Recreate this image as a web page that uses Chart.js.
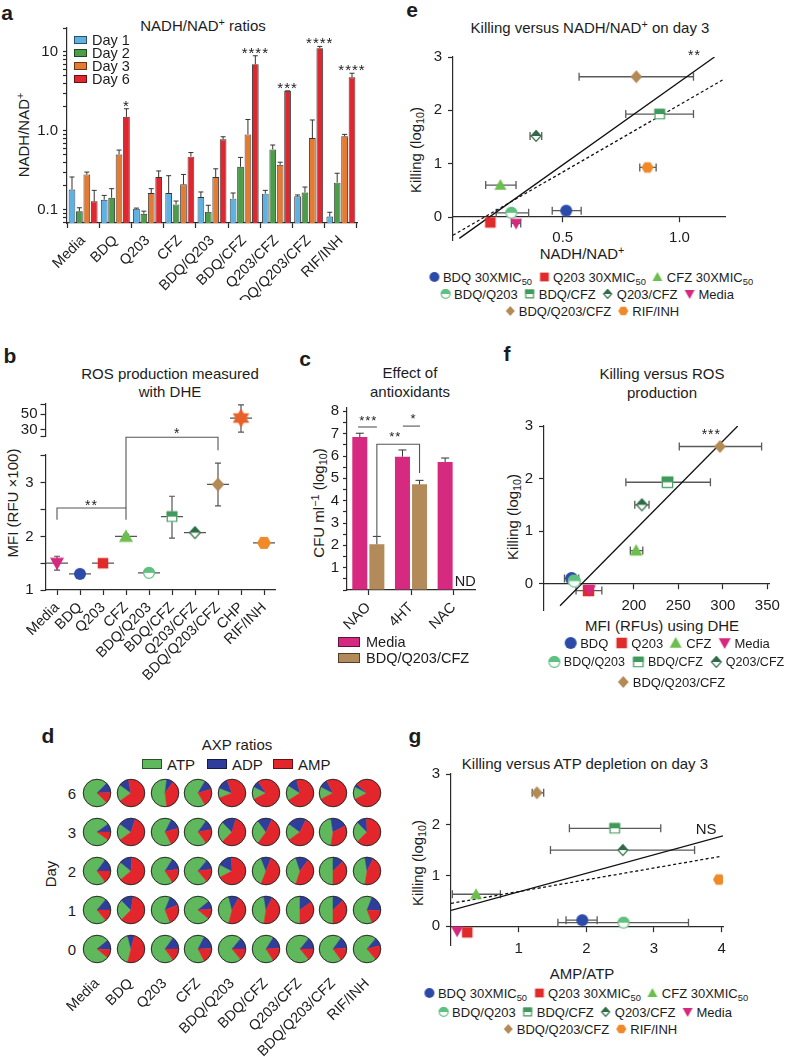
<!DOCTYPE html>
<html><head><meta charset="utf-8">
<script src="https://cdn.jsdelivr.net/npm/chart.js@4.4.1/dist/chart.umd.min.js"></script>
<style>
html,body{margin:0;padding:0;background:#fff;}
#root{position:relative;width:788px;height:1057px;overflow:hidden;background:#fff;font-family:"Liberation Sans",Arial,Helvetica,sans-serif;color:#1c1c1c;}
#root canvas{position:absolute;}
.t{position:absolute;white-space:nowrap;line-height:1;}
.lg{position:absolute;display:flex;align-items:center;white-space:nowrap;line-height:1;transform:translate(-50%,-50%);}
.lg .it{display:flex;align-items:center;margin:0 2.5px;}
#root .lg canvas{position:static;margin-right:2px;}
sub{font-size:72%;vertical-align:-0.3em;line-height:0;}
sup{font-size:72%;vertical-align:0.45em;line-height:0;}
</style></head>
<body><div id="root"></div>
<script>
// ================= DATA =================
// Panel a: NADH/NAD+ ratios
const aCategories = ['Media','BDQ','Q203','CFZ','BDQ/Q203','BDQ/CFZ','Q203/CFZ','BDQ/Q203/CFZ','RIF/INH'];
const aSeries = ['Day 1','Day 2','Day 3','Day 6'];
const aDay1 = [0.18,0.134,0.103,0.163,0.145,0.138,0.16,0.148,0.082];
const aDay2 = [0.096,0.142,0.089,0.117,0.094,0.35,0.58,0.165,0.22];
const aDay3 = [0.28,0.5,0.163,0.21,0.26,0.9,0.37,0.81,0.855];
const aDay6 = [0.128,1.5,0.26,0.47,0.78,6.97,3.2,11.1,4.76];
const aDay1Err = [0.26,0.152,0.105,0.27,0.168,0.163,0.176,0.154,0.093];
const aDay2Err = [0.106,0.185,0.096,0.129,0.114,0.46,0.66,0.194,0.29];
const aDay3Err = [0.30,0.57,0.185,0.28,0.33,1.39,0.40,1.37,0.90];
const aDay6Err = [0.176,1.9,0.31,0.53,0.84,8.9,3.2,11.7,5.35];
const aStars = ['','*','','','','****','***','****','****'];
const aYTicks = [0.07,0.08,0.09,0.1,0.2,0.3,0.4,0.5,0.6,0.7,0.8,0.9,1,2,3,4,5,6,7,8,9,10,20];
const aYTickLabels = {'0.1':'0.1','1':'1.0','10':'10'};

// Panel b: ROS (MFI, RFU x100)
const bCategories = ['Media','BDQ','Q203','CFZ','BDQ/Q203','BDQ/CFZ','Q203/CFZ','BDQ/Q203/CFZ','CHP','RIF/INH'];
const bMFI  = [1.5,1.3,1.5,2.0,1.32,2.37,2.07,2.97,45,1.88];
const bLow  = [1.37,1.28,1.48,1.97,1.29,1.97,2.03,2.57,27,1.86];
const bHigh = [1.63,1.32,1.52,2.04,1.35,2.75,2.11,3.37,62,1.9];
const bLowerTicks = [1,1.5,2,2.5,3,3.52];
const bUpperTicks = [22,30,50,63];
const bBreak = 10;

// Panel c: antioxidants
const cCategories = ['NAO','4HT','NAC'];
const cMedia = [6.85,5.97,5.73];
const cMediaErr = [7.02,6.27,5.91];
const cCombo = [2.05,4.73,null];
const cComboErr = [2.4,4.91,null];
const cYTicks = [0,0.5,1,1.5,2,2.5,3,3.5,4,4.5,5,5.5,6,6.5,7,7.5,8];

// Panel d: AXP ratios (rows: day 6,3,2,1,0)
const dCategories = ['Media','BDQ','Q203','CFZ','BDQ/Q203','BDQ/CFZ','Q203/CFZ','BDQ/Q203/CFZ','RIF/INH'];
const dDays = ['6','3','2','1','0'];
const dATP = [
  [0.75,0.20,0.54,0.67,0.12,0.15,0.18,0.15,0.15],
  [0.80,0.20,0.65,0.70,0.25,0.30,0.20,0.45,0.25],
  [0.70,0.22,0.68,0.72,0.15,0.38,0.40,0.50,0.45],
  [0.72,0.25,0.62,0.78,0.42,0.45,0.50,0.50,0.62],
  [0.78,0.42,0.70,0.65,0.72,0.68,0.72,0.70,0.72]];
const dADP = [
  [0.12,0.12,0.08,0.12,0.13,0.08,0.12,0.10,0.04],
  [0.10,0.20,0.13,0.12,0.17,0.17,0.22,0.20,0.12],
  [0.15,0.15,0.14,0.12,0.17,0.12,0.15,0.13,0.10],
  [0.14,0.15,0.13,0.10,0.12,0.10,0.15,0.13,0.20],
  [0.12,0.08,0.15,0.17,0.14,0.15,0.14,0.14,0.10]];
const dAMP = [
  [0.13,0.68,0.38,0.21,0.75,0.77,0.70,0.75,0.81],
  [0.10,0.60,0.22,0.18,0.58,0.53,0.58,0.35,0.63],
  [0.15,0.63,0.18,0.16,0.68,0.50,0.45,0.37,0.45],
  [0.14,0.60,0.25,0.12,0.46,0.45,0.35,0.37,0.18],
  [0.10,0.50,0.15,0.18,0.14,0.17,0.14,0.16,0.18]];

// Panel e: killing vs NADH/NAD+ (day 3)
const eKeys  = ['BDQ','Q203','CFZ','BDQ/Q203','BDQ/CFZ','Q203/CFZ','Media','BDQ/Q203/CFZ','RIF/INH'];
const eNames = ['BDQ 30XMIC<sub>50</sub>','Q203 30XMIC<sub>50</sub>','CFZ 30XMIC<sub>50</sub>','BDQ/Q203','BDQ/CFZ','Q203/CFZ','Media','BDQ/Q203/CFZ','RIF/INH'];
const eX   = [0.515,0.19,0.233,0.28,0.915,0.386,0.30,0.815,0.863];
const eY   = [0.12,-0.10,0.60,0.08,1.93,1.52,-0.12,2.63,0.93];
const eXLo = [0.455,null,0.17,0.215,0.77,0.36,0.28,0.57,0.83];
const eXHi = [0.579,null,0.30,0.354,1.06,0.41,0.32,1.06,0.90];
const eFitSolidX = [0.057,1.15], eFitSolidY = [-0.40,3.0];
const eFitDashX = [0.03,1.185], eFitDashY = [-0.34,2.57];

// Panel f: killing vs ROS
const fKeys = ['BDQ','Q203','CFZ','Media','BDQ/Q203','BDQ/CFZ','Q203/CFZ','BDQ/Q203/CFZ'];
const fX   = [130,149,202.5,150,133,237.7,209,296.7];
const fY   = [0.10,-0.13,0.63,-0.12,0.05,1.93,1.50,2.61];
const fXLo = [122,135,196,null,null,191,201,251];
const fXHi = [138,164,210,null,null,286,217,343.5];
const fFitX = [117,316.7], fFitY = [-0.42,3.0];

// Panel g: killing vs AMP/ATP (day 3)
const gX   = [1.94,0.24,0.37,2.55,2.42,2.54,0.09,1.27,3.96];
const gY   = [0.12,-0.12,0.63,0.07,1.93,1.50,-0.10,2.63,0.92];
const gXLo = [1.70,null,0.02,1.58,1.75,1.47,null,1.20,null];
const gXHi = [2.16,null,0.73,3.51,3.10,3.60,null,1.37,null];
const gFitSolidX = [0,4.02], gFitSolidY = [0.31,1.78];
const gFitDashX = [0,4.0], gFitDashY = [0.45,1.38];

// ================= STYLE =================
const FONT = "'Liberation Sans', Arial, Helvetica, sans-serif";
const TXT = '#1c1c1c';
const AX = '#2a2a2a';
const DAYCOL = ['#5eb1e3','#4b9d4a','#e37b33','#e0262e'];
const PIECOL = ['#5fb85b','#2f3d9b','#e2262b'];
const C_MEDIA = '#d52a80', C_TAN = '#b38b5a';
const MK = {
  'BDQ':['circle','#2c4ba8'], 'Q203':['square','#e02b2b'], 'CFZ':['triangle','#6cbf4c'],
  'Media':['triangleDown','#d6287f'], 'BDQ/Q203':['halfCircle','#5fc07f'], 'BDQ/CFZ':['halfSquare','#3f9a5c'],
  'Q203/CFZ':['halfDiamond','#2f6b45'], 'BDQ/Q203/CFZ':['diamond','#b38a55'], 'RIF/INH':['hexagon','#f08a28'],
  'CHP':['star6','#e8602a']
};

Chart.defaults.font.family = FONT;
Chart.defaults.font.size = 14;
Chart.defaults.color = TXT;
Chart.defaults.animation = false;
Chart.defaults.responsive = false;
Chart.defaults.maintainAspectRatio = false;
Chart.defaults.plugins.legend.display = false;
Chart.defaults.plugins.tooltip.enabled = false;
Chart.defaults.events = [];

const root = document.getElementById('root');
function txt(x, y, html, o = {}) {
  const d = document.createElement('div');
  d.className = 't'; d.innerHTML = html;
  d.style.left = x + 'px'; d.style.top = y + 'px';
  d.style.fontSize = (o.size || 14) + 'px';
  if (o.bold) d.style.fontWeight = 'bold';
  const tx = o.anchor === 'left' ? '0' : '-50%';
  d.style.transform = `translate(${tx},-50%)` + (o.rot ? ` rotate(${o.rot}deg)` : '');
  root.appendChild(d); return d;
}
function mkCanvas(l, t, w, h) {
  const c = document.createElement('canvas');
  c.width = w; c.height = h;
  c.style.left = l + 'px'; c.style.top = t + 'px';
  c.style.width = w + 'px'; c.style.height = h + 'px';
  root.appendChild(c); return c;
}
function clean(o) {
  if (o && typeof o === 'object' && !Array.isArray(o)) {
    Object.keys(o).forEach(k => { if (o[k] === undefined) delete o[k]; else clean(o[k]); });
  }
  return o;
}
function axisCfg(o) {
  return clean({
    type: o.type || 'linear', min: o.min, max: o.max, position: o.position, offset: o.offset, display: o.display,
    afterFit: o.size != null ? (s => { if (s.isHorizontal()) s.height = o.size; else s.width = o.size; }) : undefined,
    afterBuildTicks: o.ticks ? (s => { s.ticks = o.ticks.map(v => ({value: v})); }) : undefined,
    border: {display: o.border !== false, color: AX, width: 1.2},
    grid: {display: o.grid !== false, drawOnChartArea: false, drawTicks: o.drawTicks !== false, tickLength: o.tickLength ?? 5,
           color: AX, tickColor: AX, tickWidth: 1.2, offset: o.gridOffset},
    ticks: {padding: o.padding ?? 3, color: TXT, font: {size: o.font || 14}, autoSkip: false,
            minRotation: o.rot || 0, maxRotation: o.rot || 0, callback: o.label}
  });
}

// ---- markers ----
function shapePath(ctx, shape, cx, cy, r) {
  ctx.beginPath();
  if (shape === 'circle') ctx.arc(cx, cy, r, 0, Math.PI * 2);
  else if (shape === 'square') ctx.rect(cx - r * 0.88, cy - r * 0.88, r * 1.76, r * 1.76);
  else if (shape === 'triangle') { ctx.moveTo(cx, cy - r); ctx.lineTo(cx + r, cy + r * 0.78); ctx.lineTo(cx - r, cy + r * 0.78); ctx.closePath(); }
  else if (shape === 'triangleDown') { ctx.moveTo(cx, cy + r); ctx.lineTo(cx + r, cy - r * 0.78); ctx.lineTo(cx - r, cy - r * 0.78); ctx.closePath(); }
  else if (shape === 'diamond') { ctx.moveTo(cx, cy - r); ctx.lineTo(cx + r * 0.9, cy); ctx.lineTo(cx, cy + r); ctx.lineTo(cx - r * 0.9, cy); ctx.closePath(); }
  else if (shape === 'hexagon') { for (let k = 0; k < 6; k++) { const a = Math.PI / 3 * k; const px = cx + r * Math.cos(a), py = cy + r * Math.sin(a); k ? ctx.lineTo(px, py) : ctx.moveTo(px, py); } ctx.closePath(); }
  else if (shape === 'star6') { for (let k = 0; k < 12; k++) { const a = -Math.PI / 2 + Math.PI / 6 * k; const rr = k % 2 ? r * 0.58 : r; const px = cx + rr * Math.cos(a), py = cy + rr * Math.sin(a); k ? ctx.lineTo(px, py) : ctx.moveTo(px, py); } ctx.closePath(); }
}
function drawMarker(ctx, type, cx, cy, size, color) {
  const r = size / 2;
  const half = type.startsWith('half');
  const shape = half ? type.charAt(4).toLowerCase() + type.slice(5) : type;
  ctx.save();
  if (half) {
    ctx.fillStyle = '#fff'; shapePath(ctx, shape, cx, cy, r); ctx.fill();
    ctx.save(); ctx.beginPath(); ctx.rect(cx - r - 2, cy - r - 2, 2 * r + 4, r + 2); ctx.clip();
    ctx.fillStyle = color; shapePath(ctx, shape, cx, cy, r); ctx.fill(); ctx.restore();
    ctx.strokeStyle = color; ctx.lineWidth = 1.2; shapePath(ctx, shape, cx, cy, r - 0.6); ctx.stroke();
  } else { ctx.fillStyle = color; shapePath(ctx, shape, cx, cy, r); ctx.fill(); }
  ctx.restore();
}
function markerCanvas(type, size, color) {
  const c = document.createElement('canvas');
  const n = Math.ceil(size) + 4;
  c.width = n; c.height = n;
  drawMarker(c.getContext('2d'), type, n / 2, n / 2, size, color);
  return c;
}

// ---- plugins ----
function barErr(cap) {
  return {id: 'barErr', afterDatasetsDraw(chart) {
    const ctx = chart.ctx, Y = chart.scales.y;
    chart.data.datasets.forEach((ds, di) => {
      if (!ds.err) return;
      chart.getDatasetMeta(di).data.forEach((bar, i) => {
        const v = ds.err[i]; if (v == null || ds.data[i] == null) return;
        const yt = Y.getPixelForValue(v);
        ctx.save(); ctx.strokeStyle = '#333'; ctx.lineWidth = 1;
        ctx.beginPath(); ctx.moveTo(bar.x, bar.y); ctx.lineTo(bar.x, yt);
        ctx.moveTo(bar.x - cap, yt); ctx.lineTo(bar.x + cap, yt); ctx.stroke(); ctx.restore();
      });
    });
  }};
}
function notes(spec) {
  return {id: 'notes', afterDraw(chart) {
    const ctx = chart.ctx, X = chart.scales.x, Y = chart.scales.y;
    (spec.lines || []).forEach(l => {
      ctx.save(); ctx.strokeStyle = spec.lineColor || '#555'; ctx.lineWidth = 1.1; ctx.beginPath();
      l.forEach((p, k) => { const px = X.getPixelForValue(p[0]), py = Y.getPixelForValue(p[1]); k ? ctx.lineTo(px, py) : ctx.moveTo(px, py); });
      ctx.stroke(); ctx.restore();
    });
    (spec.texts || []).forEach(t => {
      ctx.save(); ctx.fillStyle = TXT; ctx.font = `${t.size || 14}px ${FONT}`;
      ctx.textAlign = 'center'; ctx.textBaseline = 'middle';
      if (t.ls) ctx.letterSpacing = t.ls + 'px';
      ctx.fillText(t.t, X.getPixelForValue(t.x), Y.getPixelForValue(t.y) + (t.dy || 0));
      ctx.restore();
    });
  }};
}
function hErr(ys, lo, hi) {
  return {id: 'hErr', beforeDatasetsDraw(chart) {
    const ctx = chart.ctx, X = chart.scales.x, Y = chart.scales.y;
    ctx.save(); ctx.strokeStyle = '#5a5a5a'; ctx.lineWidth = 1.3;
    lo.forEach((l, i) => {
      if (l == null) return;
      const y = Y.getPixelForValue(ys[i]), x1 = X.getPixelForValue(l), x2 = X.getPixelForValue(hi[i]);
      ctx.beginPath(); ctx.moveTo(x1, y); ctx.lineTo(x2, y);
      ctx.moveTo(x1, y - 4); ctx.lineTo(x1, y + 4); ctx.moveTo(x2, y - 4); ctx.lineTo(x2, y + 4); ctx.stroke();
    });
    ctx.restore();
  }};
}
function vErr(vals, lo, hi, keep) {
  return {id: 'vErr', beforeDatasetsDraw(chart) {
    const ctx = chart.ctx, X = chart.scales.x, Y = chart.scales.y;
    ctx.save(); ctx.strokeStyle = '#555'; ctx.lineWidth = 1.2;
    vals.forEach((v, i) => {
      if (!keep(v)) return;
      const x = X.getPixelForValue(i), y = Y.getPixelForValue(v), y1 = Y.getPixelForValue(lo[i]), y2 = Y.getPixelForValue(hi[i]);
      ctx.beginPath(); ctx.moveTo(x - 11, y); ctx.lineTo(x + 11, y);
      ctx.moveTo(x, y1); ctx.lineTo(x, y2);
      ctx.moveTo(x - 3, y1); ctx.lineTo(x + 3, y1); ctx.moveTo(x - 3, y2); ctx.lineTo(x + 3, y2); ctx.stroke();
    });
    ctx.restore();
  }};
}
const pieRim = {id: 'rim', afterDatasetsDraw(chart) {
  const arc = chart.getDatasetMeta(0).data[0]; if (!arc) return;
  const ctx = chart.ctx; ctx.save(); ctx.strokeStyle = '#2d2d2d'; ctx.lineWidth = 1;
  ctx.beginPath(); ctx.arc(arc.x, arc.y, arc.outerRadius, 0, Math.PI * 2); ctx.stroke(); ctx.restore();
}};

// ---- legends ----
function swatch(x, y, w, h, color, label, size, gap) {
  const s = document.createElement('div');
  s.style.cssText = `position:absolute;left:${x}px;top:${y - h / 2}px;width:${w}px;height:${h}px;background:${color};border:1px solid rgba(0,0,0,0.55);box-sizing:border-box;`;
  root.appendChild(s);
  txt(x + w + gap, y, label, {size, anchor: 'left'});
}
function legendRow(cx, cy, items, size, msize) {
  const d = document.createElement('div'); d.className = 'lg';
  d.style.left = cx + 'px'; d.style.top = cy + 'px'; d.style.fontSize = size + 'px';
  items.forEach(([key, html]) => {
    const it = document.createElement('span'); it.className = 'it';
    const m = markerCanvas(MK[key][0], msize, MK[key][1]);
    m.style.width = m.width + 'px'; m.style.height = m.height + 'px';
    it.appendChild(m);
    const s = document.createElement('span'); s.innerHTML = html; it.appendChild(s);
    d.appendChild(it);
  });
  root.appendChild(d);
}

// ================= PANEL LETTERS & TITLES =================
[['a',7,12],['b',10,355],['c',305,358],['d',48,735],['e',412,9],['f',507,353],['g',415,735]]
  .forEach(([l, x, y]) => txt(x, y, l, {size: 21, bold: true}));

const TS = 15;
txt(203, 25, 'NADH/NAD<sup>+</sup> ratios', {size: TS});
txt(23, 135, 'NADH/NAD<sup>+</sup>', {rot: -90, size: TS});
txt(170, 373, 'ROS production measured', {size: TS});
txt(170, 391, 'with DHE', {size: TS});
txt(12, 503, 'MFI (RFU ×100)', {rot: -90, size: TS});
txt(410, 372, 'Effect of', {size: TS});
txt(410, 391, 'antioxidants', {size: TS});
txt(318, 503, 'CFU ml<sup>−1</sup> (log<sub>10</sub>)', {rot: -90, size: TS});
txt(237, 744, 'AXP ratios', {size: TS});
txt(50, 874, 'Day', {rot: -90, size: TS});
txt(590, 27, 'Killing versus NADH/NAD<sup>+</sup> on day 3', {size: TS});
txt(415, 150, 'Killing (log<sub>10</sub>)', {rot: -90, size: TS});
txt(582, 253, 'NADH/NAD<sup>+</sup>', {size: TS});
txt(662, 373, 'Killing versus ROS', {size: TS});
txt(662, 392, 'production', {size: TS});
txt(512, 517, 'Killing (log<sub>10</sub>)', {rot: -90, size: TS});
txt(662, 625, 'MFI (RFUs) using DHE', {size: TS});
txt(585, 763, 'Killing versus ATP depletion on day 3', {size: TS});
txt(417, 863, 'Killing (log<sub>10</sub>)', {rot: -90, size: TS});
txt(582, 973, 'AMP/ATP', {size: TS});

// ================= PANEL a =================
const aStarPlugin = {id: 'aStars', afterDatasetsDraw(chart) {
  const ctx = chart.ctx, Y = chart.scales.y, meta = chart.getDatasetMeta(3);
  ctx.save(); ctx.fillStyle = TXT; ctx.font = `15px ${FONT}`; ctx.textAlign = 'center'; ctx.textBaseline = 'alphabetic';
  ctx.letterSpacing = '1px';
  aStars.forEach((s, i) => { if (!s) return; ctx.fillText(s, meta.data[i].x, Y.getPixelForValue(aDay6Err[i]) + 2); });
  ctx.restore();
}};
new Chart(mkCanvas(0, 0, 400, 300), {
  type: 'bar',
  data: {labels: aCategories, datasets: [aDay1, aDay2, aDay3, aDay6].map((d, k) => ({
    label: aSeries[k], data: d, err: [aDay1Err, aDay2Err, aDay3Err, aDay6Err][k], backgroundColor: DAYCOL[k]}))},
  options: {
    layout: {padding: {left: 0, top: 28, right: 43, bottom: 0}},
    datasets: {bar: {categoryPercentage: 0.92, barPercentage: 0.9, borderColor: '#333', borderWidth: 0.9}},
    scales: {
      x: axisCfg({type: 'category', size: 77, rot: 45, padding: 4, tickLength: 5, font: 14.5}),
      y: axisCfg({type: 'logarithmic', min: 0.068, max: 20, size: 67, ticks: aYTicks, tickLength: 4, padding: 5, font: 15,
                  label: v => aYTickLabels[String(v)] || ''})
    }
  },
  plugins: [barErr(2.5), aStarPlugin]
});
[74].forEach(x => {
  const ys = [39.5, 52.5, 65.5, 79];
  aSeries.forEach((s, k) => swatch(x, ys[k], 13, 8, DAYCOL[k], s, 14.5, 5));
});

// ================= PANEL b =================
const bSize = {'Media':14,'BDQ':12,'Q203':12,'CFZ':14,'BDQ/Q203':12,'BDQ/CFZ':12,'Q203/CFZ':13,'BDQ/Q203/CFZ':14,'CHP':19,'RIF/INH':14};
const bStyles = bCategories.map(k => markerCanvas(MK[k][0], bSize[k], MK[k][1]));
const bLowerVals = bMFI.map(v => v <= bBreak ? v : null);
const bUpperVals = bMFI.map(v => v > bBreak ? v : null);
new Chart(mkCanvas(0, 420, 290, 280), {
  type: 'line',
  data: {labels: bCategories, datasets: [{data: bLowerVals, pointStyle: bStyles, pointRadius: 7, showLine: false}]},
  options: {
    layout: {padding: {left: 0, top: 35, right: 14.5, bottom: 0}},
    scales: {
      x: axisCfg({type: 'category', offset: true, size: 110, rot: 45, padding: 4, tickLength: 5, font: 14.5}),
      y: axisCfg({min: 1, max: 3.52, size: 45.5, ticks: bLowerTicks, padding: 7, tickLength: 5, font: 15,
                  label: v => Number.isInteger(v) ? String(v) : ''})
    }
  },
  plugins: [vErr(bMFI, bLow, bHigh, v => v <= bBreak), notes({
    lines: [[[0, 2.31], [0, 2.53], [3, 2.53], [3, 2.31]], [[3, 2.53], [3, 3.85], [7, 3.85], [7, 3.61]]],
    texts: [{x: 1.5, y: 2.62, t: '**', size: 14, dy: 3, ls: 1}, {x: 5.2, y: 3.97, t: '*', size: 14, dy: 3}]
  })]
});
new Chart(mkCanvas(0, 392, 290, 56), {
  type: 'line',
  data: {labels: bCategories, datasets: [{data: bUpperVals, pointStyle: bStyles, pointRadius: 7, showLine: false}]},
  options: {
    layout: {padding: {left: 0, top: 8.7, right: 14.5, bottom: 6.3}},
    scales: {
      x: {type: 'category', offset: true, display: false},
      y: axisCfg({min: 22, max: 63, size: 45.5, ticks: bUpperTicks, padding: 3, tickLength: 5, font: 15,
                  label: v => (v === 30 || v === 50) ? String(v) : ''})
    }
  },
  plugins: [vErr(bMFI, bLow, bHigh, v => v > bBreak)]
});

// ================= PANEL c =================
new Chart(mkCanvas(290, 395, 190, 275), {
  type: 'bar',
  data: {labels: cCategories, datasets: [
    {label: 'Media', data: cMedia, err: cMediaErr, backgroundColor: C_MEDIA},
    {label: 'BDQ/Q203/CFZ', data: cCombo, err: cComboErr, backgroundColor: C_TAN}]},
  options: {
    layout: {padding: {left: 0, top: 5, right: 5, bottom: 0}},
    datasets: {bar: {categoryPercentage: 0.8, barPercentage: 0.88, borderWidth: 0}},
    scales: {
      x: axisCfg({type: 'category', size: 80, rot: 45, padding: 4, tickLength: 5, gridOffset: false, font: 14.5}),
      y: axisCfg({min: 0, max: 8.15, size: 57, ticks: cYTicks, padding: 4, tickLength: 4, font: 15,
                  label: v => (Number.isInteger(v) && v > 0) ? String(v) : ''})
    }
  },
  plugins: [barErr(4), notes({
    lines: [[[-0.24, 7.3], [0.2, 7.3]], [[0.2, 2.37], [0.2, 6.53], [1.2, 6.53], [1.2, 5.24]], [[0.81, 7.34], [1.21, 7.34]]],
    texts: [{x: 0, y: 7.7, t: '***', size: 13, dy: 3, ls: 1}, {x: 0.63, y: 6.96, t: '**', size: 13, dy: 3, ls: 1},
            {x: 1.05, y: 7.77, t: '*', size: 13, dy: 3}, {x: 2.27, y: 0.36, t: 'ND', size: 14.5}]
  })]
});
swatch(338, 642, 22, 10, C_MEDIA, 'Media', 14.5, 6);
swatch(338, 658, 22, 10, C_TAN, 'BDQ/Q203/CFZ', 14.5, 6);

// ================= PANEL d =================
swatch(142, 764, 20, 10, PIECOL[0], 'ATP', 15, 5);
swatch(207, 764, 20, 10, PIECOL[1], 'ADP', 15, 5);
swatch(273, 764, 20, 10, PIECOL[2], 'AMP', 15, 5);
const D_X0 = 97, D_DX = 33.75, D_Y0 = 793, D_DY = 39;
dDays.forEach((day, r) => {
  txt(72, D_Y0 + r * D_DY, day, {size: 15});
  dCategories.forEach((cat, c) => {
    const vals = [dATP[r][c], dADP[r][c], dAMP[r][c]];
    const total = vals[0] + vals[1] + vals[2];
    const cx = D_X0 + c * D_DX, cy = D_Y0 + r * D_DY;
    new Chart(mkCanvas(cx - 16, cy - 16, 32, 32), {
      type: 'pie',
      data: {labels: ['ATP', 'ADP', 'AMP'], datasets: [{data: vals, backgroundColor: PIECOL, borderColor: PIECOL, borderWidth: 0.5}]},
      options: {rotation: 270 - 180 * vals[0] / total, layout: {padding: 2}},
      plugins: [pieRim]
    });
  });
});
new Chart(mkCanvas(0, 940, 400, 117), {
  type: 'bar',
  data: {labels: dCategories, datasets: [{data: []}]},
  options: {
    layout: {padding: {left: D_X0 - D_DX / 2, right: 400 - (D_X0 + 8.5 * D_DX), top: 0, bottom: 0}},
    scales: {
      x: axisCfg({type: 'category', size: 91, rot: 45, padding: 9, border: false, grid: false, drawTicks: false, font: 14.5}),
      y: {display: false}
    }
  }
});

// ================= PANEL e =================
function pts(xs, ys) { return xs.map((x, i) => ({x, y: ys[i]})); }
new Chart(mkCanvas(400, 40, 388, 215), {
  type: 'scatter',
  data: {datasets: [
    {data: pts(eX, eY), pointStyle: eKeys.map(k => markerCanvas(MK[k][0], k === 'BDQ/Q203/CFZ' ? 13 : 12, MK[k][1])), pointRadius: 6},
    {data: pts(eFitSolidX, eFitSolidY), showLine: true, borderColor: '#111', borderWidth: 1.3, pointRadius: 0},
    {data: pts(eFitDashX, eFitDashY), showLine: true, borderColor: '#111', borderWidth: 1.3, borderDash: [3, 2.5], pointRadius: 0}
  ]},
  options: {
    layout: {padding: {left: 0, top: 17, right: 63, bottom: 15}},
    scales: {
      x: axisCfg({min: 0.03, max: 1.195, position: {y: 0}, ticks: [0.5, 1.0], label: v => v.toFixed(1), padding: 7, font: 15}),
      y: axisCfg({min: -0.43, max: 3, size: 53, ticks: [0, 1, 2, 3], label: v => String(v), padding: 6, font: 15})
    }
  },
  plugins: [hErr(eY, eXLo, eXHi), notes({texts: [{x: 1.064, y: 3.08, t: '**', size: 14, dy: 3, ls: 1}]})]
});
legendRow(590, 277, [[eKeys[0], eNames[0]], [eKeys[1], eNames[1]], [eKeys[2], eNames[2]]], 13, 10);
legendRow(586, 294, [[eKeys[3], eNames[3]], [eKeys[4], eNames[4]], [eKeys[5], eNames[5]], [eKeys[6], eNames[6]]], 13, 10);
legendRow(591, 311, [[eKeys[7], eNames[7]], [eKeys[8], eNames[8]]], 13, 10);

// ================= PANEL f =================
new Chart(mkCanvas(490, 408, 298, 217), {
  type: 'scatter',
  data: {datasets: [
    {data: pts(fX, fY), pointStyle: fKeys.map(k => markerCanvas(MK[k][0], 13, MK[k][1])), pointRadius: 6},
    {data: pts(fFitX, fFitY), showLine: true, borderColor: '#111', borderWidth: 1.3, pointRadius: 0}
  ]},
  options: {
    layout: {padding: {left: 0, top: 18, right: 11, bottom: 9}},
    scales: {
      x: axisCfg({min: 99, max: 352.3, position: {y: 0}, ticks: [200, 250, 300, 350], label: v => String(v), padding: 8, font: 15}),
      y: axisCfg({min: -0.5, max: 3, size: 54, ticks: [0, 1, 2, 3], label: v => String(v), padding: 6, font: 15})
    }
  },
  plugins: [hErr(fY, fXLo, fXHi), notes({texts: [{x: 287, y: 2.89, t: '***', size: 14, dy: 3, ls: 1}]})]
});
legendRow(666, 643, fKeys.slice(0, 4).map(k => [k, k]), 13, 12);
legendRow(665, 662, fKeys.slice(4, 7).map(k => [k, k]), 12.5, 12);
legendRow(670, 682, fKeys.slice(7).map(k => [k, k]), 13, 12);

// ================= PANEL g =================
new Chart(mkCanvas(400, 755, 388, 205), {
  type: 'scatter',
  data: {datasets: [
    {data: pts(gX, gY), pointStyle: eKeys.map(k => markerCanvas(MK[k][0], k === 'BDQ/Q203/CFZ' ? 13 : 12, MK[k][1])), pointRadius: 6},
    {data: pts(gFitSolidX, gFitSolidY), showLine: true, borderColor: '#111', borderWidth: 1.3, pointRadius: 0},
    {data: pts(gFitDashX, gFitDashY), showLine: true, borderColor: '#111', borderWidth: 1.3, borderDash: [3, 2.5], pointRadius: 0}
  ]},
  options: {
    layout: {padding: {left: 0, top: 19, right: 65, bottom: 7}},
    scales: {
      x: axisCfg({min: 0, max: 4.02, position: {y: 0}, ticks: [1, 2, 3, 4], label: v => String(v), padding: 9, font: 15}),
      y: axisCfg({min: -0.37, max: 3, size: 51, ticks: [0, 1, 2, 3], label: v => String(v), padding: 6, font: 15})
    }
  },
  plugins: [hErr(gY, gXLo, gXHi), notes({texts: [{x: 3.77, y: 1.9, t: 'NS', size: 15}]})]
});
legendRow(585, 993, [[eKeys[0], eNames[0]], [eKeys[1], eNames[1]], [eKeys[2], eNames[2]]], 13, 10);
legendRow(584, 1012, [[eKeys[3], eNames[3]], [eKeys[4], eNames[4]], [eKeys[5], eNames[5]], [eKeys[6], eNames[6]]], 13, 10);
legendRow(589, 1029, [[eKeys[7], eNames[7]], [eKeys[8], eNames[8]]], 13, 10);
</script>
</body></html>
